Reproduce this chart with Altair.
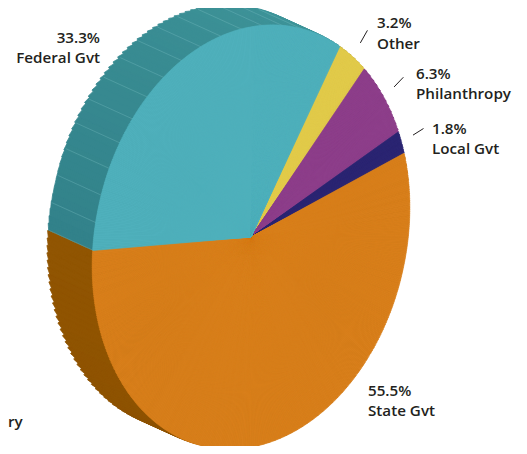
import math
import numpy as np
import pandas as pd
import altair as alt

# ---------------- data ----------------
categories = ["Other", "Philanthropy", "Local Gvt", "State Gvt", "Federal Gvt"]
shares = [3.2, 6.3, 1.8, 55.5, 33.3]
pct_text = ["3.2%", "6.3%", "1.8%", "55.5%", "33.3%"]
cut_label = "ry"

# ---------------- style ----------------
FACE = {"Other": "#e2cb4b", "Philanthropy": "#8e3f8b", "Local Gvt": "#2b2573",
        "State Gvt": "#d97f1b", "Federal Gvt": "#4fb0bc"}
SIDE_DARK = {"Other": "#a8942f", "Philanthropy": "#6a2d68", "Local Gvt": "#1d1a52",
             "State Gvt": "#8d5200", "Federal Gvt": "#2a7680"}
SIDE_LIGHT = {"Other": "#b8a33a", "Philanthropy": "#742f72", "Local Gvt": "#221d5c",
              "State Gvt": "#985a05", "Federal Gvt": "#3f959a"}
INK = "#231f20"
FONT = "Open Sans"
FSIZE = 15.2

# ---------------- layout ----------------
W, H = 511, 438
CX, CY = 243.0, 229.0          # pie centre
RA, RB = 155.0, 214.0          # minor / major semi-axes of the tilted disc
ALPHA = math.radians(12.5)     # tilt of the major axis
T0 = math.radians(17.0)        # where the first slice starts
DEPTH = (-44.0, -20.0)         # extrusion of the disc
K = 24                          # number of stacked side copies
LABEL_POS = {                   # x, baseline of first line, align
    "Other": (369, 20.4, "left"),
    "Philanthropy": (408, 71.0, "left"),
    "Local Gvt": (424, 126.0, "left"),
    "State Gvt": (360, 387.8, "left"),
    "Federal Gvt": (92, 34.5, "right"),
}
LINE_GAP = 20.4
LEADER = {"Other", "Philanthropy", "Local Gvt"}

sa, ca = math.sin(ALPHA), math.cos(ALPHA)


def ell(t):
    """offset of the disc rim at parametric angle t"""
    return (RB * math.cos(t) * sa + RA * math.sin(t) * ca,
            -RB * math.cos(t) * ca + RA * math.sin(t) * sa)


def polar(p):
    return math.atan2(p[0], -p[1])


total = sum(shares)
bounds = []
acc = T0
for c, s in zip(categories, shares):
    span = 2 * math.pi * s / total
    bounds.append((c, acc, acc + span))
    acc += span


def wedges(step_deg):
    rows = []
    for c, ts, te in bounds:
        n = max(2, int(math.ceil(math.degrees(te - ts) / step_deg)))
        tt = np.linspace(ts, te, n + 1)
        for j in range(n):
            p0, p1 = ell(tt[j]), ell(tt[j + 1])
            th0, th1 = polar(p0), polar(p1)
            while th1 < th0:
                th1 += 2 * math.pi
            r = max(math.hypot(*p0), math.hypot(*p1))
            rows.append((c, tt[j], tt[j + 1], th0, th1, r))
    return rows


def mix(c1, c2, f):
    a = [int(c1[i:i + 2], 16) for i in (1, 3, 5)]
    b = [int(c2[i:i + 2], 16) for i in (1, 3, 5)]
    return "#" + "".join(f"{int(round(x + (y - x) * f)):02x}" for x, y in zip(a, b))


# top face
face_rows = []
for c, t0, t1, th0, th1, r in wedges(0.5):
    face_rows.append({"cat": c, "theta": th0, "theta2": th1, "r": r + 0.4,
                      "x": CX, "y": CY, "fill": FACE[c]})
face_df = pd.DataFrame(face_rows)

# side (stacked copies, farthest first)
side_rows = []
coarse = wedges(2.0)
vis0 = 188.7
for k in range(K, 0, -1):
    ox, oy = DEPTH[0] * k / K, DEPTH[1] * k / K
    for c, t0, t1, th0, th1, r in coarse:
        tm = math.degrees((t0 + t1) / 2)
        s = min(1.0, max(0.0, ((tm - vis0) % 360) / 180.0))
        side_rows.append({"cat": c, "theta": th0, "theta2": th1, "r": r + 0.5,
                          "x": CX + ox, "y": CY + oy,
                          "fill": mix(SIDE_DARK[c], SIDE_LIGHT[c], s)})
side_df = pd.DataFrame(side_rows)

# stripes on the visible teal wall
stripe_rows = []
fed = [b for b in bounds if b[0] == "Federal Gvt"][0]
t = fed[1]
vis_end = math.radians(vis0 + 180)
while t <= min(fed[2], vis_end):
    p = ell(t)
    stripe_rows.append({"x": CX + p[0], "y": CY + p[1],
                        "x2": CX + p[0] + DEPTH[0], "y2": CY + p[1] + DEPTH[1]})
    t += math.radians(7.5)
stripe_df = pd.DataFrame(stripe_rows)

# leader lines
lead_rows = []
for c, ts, te in bounds:
    if c in LEADER:
        p = ell((ts + te) / 2)
        lead_rows.append({"x": CX + 1.08 * p[0], "y": CY + 1.08 * p[1],
                          "x2": CX + 1.15 * p[0], "y2": CY + 1.15 * p[1]})
lead_df = pd.DataFrame(lead_rows)

# labels (two-line blocks)
lab_left, lab_right = [], []
for c, pt in zip(categories, pct_text):
    x, y, al = LABEL_POS[c]
    tgt = lab_left if al == "left" else lab_right
    tgt.append({"x": x, "y": y, "text": pt + "\n" + c})
lab_left.append({"x": 0, "y": 419, "text": cut_label})
left_df = pd.DataFrame(lab_left)
right_df = pd.DataFrame(lab_right)


def arc_layer(df, sw):
    return alt.Chart(df).mark_arc(strokeWidth=sw).encode(
        theta=alt.Theta("theta:Q", scale=None),
        theta2="theta2:Q",
        radius=alt.Radius("r:Q", scale=None),
        x=alt.X("x:Q", scale=None),
        y=alt.Y("y:Q", scale=None),
        fill=alt.Fill("fill:N", scale=None),
        stroke=alt.Stroke("fill:N", scale=None),
    )


side = arc_layer(side_df, 0.8)
face = arc_layer(face_df, 0.7)

stripes = alt.Chart(stripe_df).mark_rule(color="#7fc1c6", strokeWidth=0.6, opacity=0.55).encode(
    x=alt.X("x:Q", scale=None), y=alt.Y("y:Q", scale=None),
    x2="x2:Q", y2="y2:Q")

leaders = alt.Chart(lead_df).mark_rule(color=INK, strokeWidth=1).encode(
    x=alt.X("x:Q", scale=None), y=alt.Y("y:Q", scale=None),
    x2="x2:Q", y2="y2:Q")


def text_layer(df, align):
    return alt.Chart(df).mark_text(align=align, baseline="alphabetic", font=FONT,
                                   fontSize=FSIZE, fontWeight=600, color=INK,
                                   lineBreak="\n", lineHeight=LINE_GAP).encode(
        x=alt.X("x:Q", scale=None), y=alt.Y("y:Q", scale=None), text="text:N")


chart = alt.layer(
    side, stripes, face, leaders, text_layer(left_df, "left"), text_layer(right_df, "right")
).properties(
    width=W, height=H, autosize=alt.AutoSizeParams(type="none"), padding=0,
    background="white"
).configure_view(stroke=None)

chart.save("out.html", embed_options={"renderer": "svg", "actions": False})
